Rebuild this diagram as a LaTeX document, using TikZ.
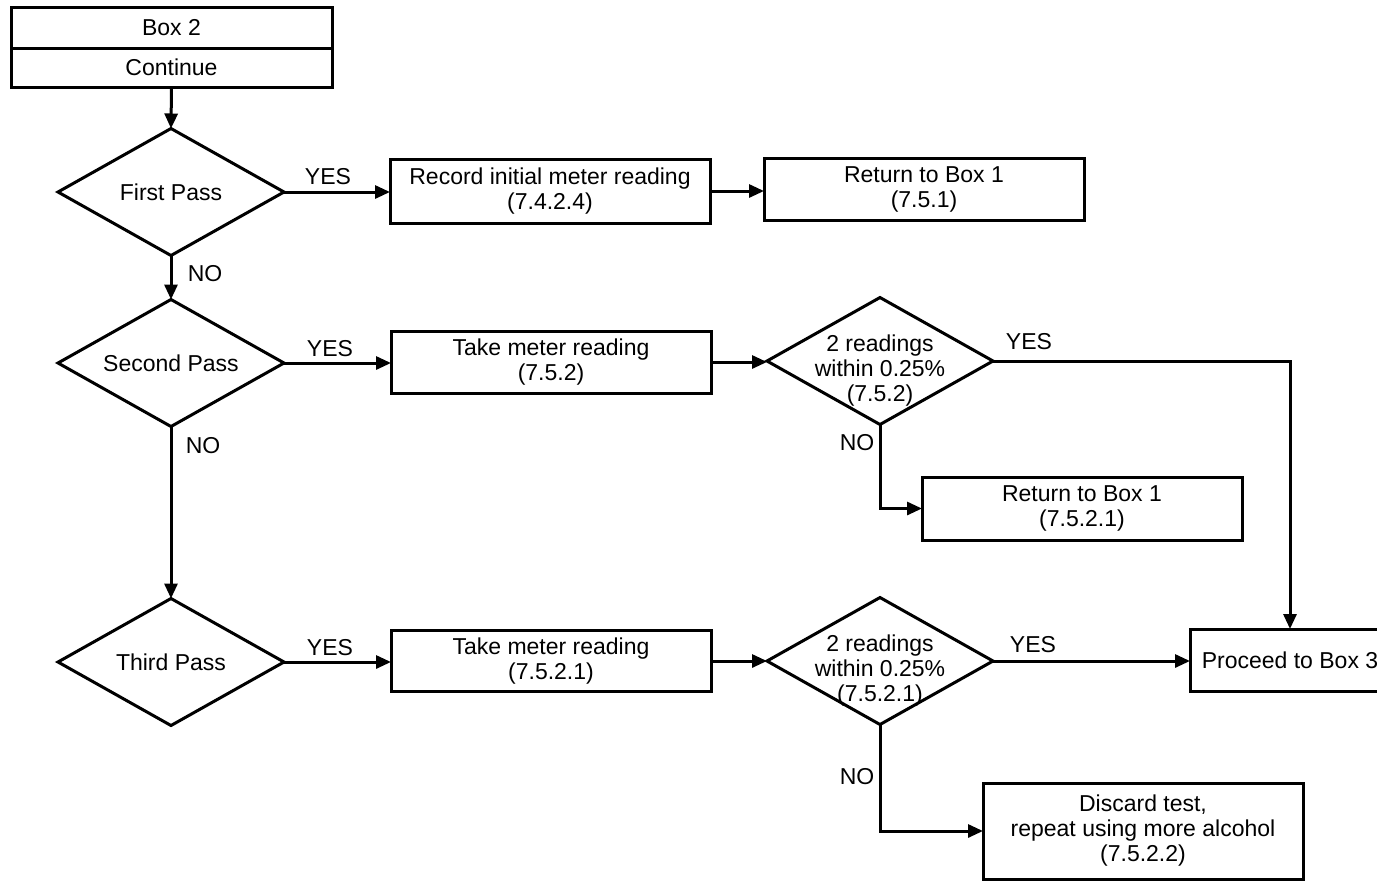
\documentclass[tikz,border=0pt]{standalone}
\usepackage{fontspec}
\setmainfont{Liberation Sans}
\usetikzlibrary{shapes.geometric,arrows.meta}
\newcommand\dtext[1]{\makebox[0pt]{\smash{\raisebox{-8pt}{\begin{tabular}{@{}c@{}}#1\end{tabular}}}}}
\begin{document}
\begin{tikzpicture}[x=0.5pt,y=-0.5pt,
  txt/.style={font=\fontsize{11.5}{12.5}\selectfont},
  box/.style={txt,draw,rectangle,line width=1.5pt,inner sep=0pt,outer sep=0pt,
    minimum width=160pt,align=center},
  dec/.style={txt,draw,diamond,aspect=1.78,line width=1.5pt,inner sep=0pt,outer sep=0pt,
    minimum width=113pt,minimum height=63.5pt},
  lbl/.style={txt,inner sep=0pt},
  ln/.style={line width=1.5pt},
  arr/.style={line width=1.5pt,-{Triangle[length=7.5pt,width=6.5pt]}}]
\useasboundingbox (0,0) rectangle (1377,880);
\clip (0,0) rectangle (1377,880);
% Box 2 header
\node[box,minimum width=160.5pt,minimum height=20.5pt] (b2a) at (171.5,27.5) {Box 2};
\node[box,minimum width=160.5pt,minimum height=19.5pt] (b2b) at (171.5,67.5) {Continue};
% left decisions
\node[dec] (d1) at (171,192) {First Pass};
\node[dec] (d2) at (171,363) {Second Pass};
\node[dec] (d3) at (171,662) {Third Pass};
% boxes
\node[box,minimum height=32pt] (rec) at (550,191) {Record initial meter reading\\(7.4.2.4)};
\node[box,minimum height=31pt] (ret1) at (924,189) {Return to Box 1\\(7.5.1)};
\node[box,minimum height=31pt] (tk1) at (551,362) {Take meter reading\\(7.5.2)};
\node[box,minimum height=31.5pt] (ret2) at (1082,508.5) {Return to Box 1\\(7.5.2.1)};
\node[box,minimum height=30.5pt] (tk2) at (551,661) {Take meter reading\\(7.5.2.1)};
\node[box,minimum width=100pt,minimum height=31pt] (pro) at (1290,660) {Proceed to Box 3};
\node[box,minimum height=48pt] (dis) at (1143,831) {Discard test,\\repeat using more alcohol\\(7.5.2.2)};
% right decisions
\node[dec] (q1) at (880,361) {\dtext{2 readings\\within 0.25\%\\(7.5.2)}};
\node[dec] (q2) at (880,661) {\dtext{2 readings\\within 0.25\%\\(7.5.2.1)}};
% connectors
\draw[arr] (b2b.south) -- (d1.north);
\draw[arr] (d1.east) -- (d1.east -| rec.west);
\draw[arr] (rec.east) -- (rec.east -| ret1.west);
\draw[arr] (d1.south) -- (d2.north);
\draw[arr] (d2.east) -- (d2.east -| tk1.west);
\draw[arr] (tk1.east) -- (tk1.east -| q1.west);
\draw[arr] (q1.east) -| (pro.north);
\draw[arr] (q1.south) |- (ret2.west);
\draw[arr] (d2.south) -- (d3.north);
\draw[arr] (d3.east) -- (d3.east -| tk2.west);
\draw[arr] (tk2.east) -- (tk2.east -| q2.west);
\draw[arr] (q2.east) -- (q2.east -| pro.west);
\draw[arr] (q2.south) |- (dis.west);
% labels
\node[lbl] (y1) at (328,177) {YES};
\node[lbl] (n1) at (205,274) {NO};
\node[lbl] (y2) at (330,349) {YES};
\node[lbl] (n2) at (203,446) {NO};
\node[lbl] (y3) at (330,648) {YES};
\node[lbl] (y4) at (1029,342) {YES};
\node[lbl] (n4) at (857,443) {NO};
\node[lbl] (y5) at (1033,645) {YES};
\node[lbl] (n5) at (857,777) {NO};
\end{tikzpicture}
\end{document}
